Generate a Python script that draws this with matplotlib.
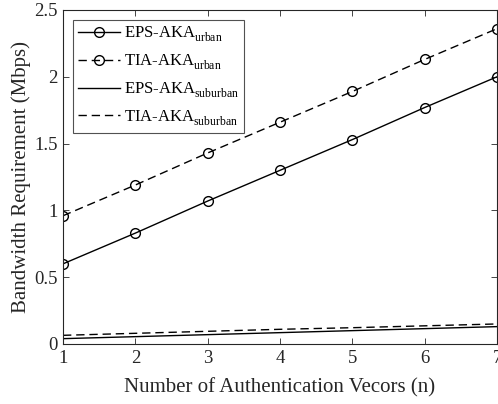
import matplotlib
matplotlib.use("Agg")
import matplotlib.pyplot as plt

try:
    import matplotlib._mathtext as _mt
    _mt.FontConstantsBase.sub1 = 0.55
    _mt.FontConstantsBase.sub2 = 0.7
except Exception:
    pass

plt.rcParams['font.family'] = ['Liberation Serif', 'DejaVu Serif']
plt.rcParams['mathtext.fontset'] = 'custom'
plt.rcParams['mathtext.rm'] = 'Liberation Serif'
plt.rcParams['mathtext.it'] = 'Liberation Serif:italic'

n = [1, 2, 3, 4, 5, 6, 7]
eps_urban = [0.60, 0.83, 1.07, 1.30, 1.53, 1.77, 2.00]
tia_urban = [0.96, 1.19, 1.43, 1.66, 1.89, 2.13, 2.36]
eps_suburban = [0.040, 0.055, 0.070, 0.085, 0.100, 0.115, 0.130]
tia_suburban = [0.065, 0.080, 0.095, 0.110, 0.122, 0.136, 0.150]

labels = ['EPS-AKA$_{\\mathrm{urban}}$', 'TIA-AKA$_{\\mathrm{urban}}$',
          'EPS-AKA$_{\\mathrm{suburban}}$', 'TIA-AKA$_{\\mathrm{suburban}}$']

fig = plt.figure(figsize=(4.98, 4.04), dpi=100)
ax = fig.add_axes([63/498, 1-344/404, (497-63)/498, (344-10)/404])

ax.plot(n, eps_urban, 'k-', marker='o', mfc='none', ms=7, lw=1, label=labels[0])
ax.plot(n, tia_urban, 'k--', marker='o', mfc='none', ms=7, lw=1, dashes=(6, 3.5), label=labels[1])
ax.plot(n, eps_suburban, 'k-', lw=1, label=labels[2])
ax.plot(n, tia_suburban, 'k--', lw=1, dashes=(6, 3.5), label=labels[3])

ax.set_xlim(1, 7)
ax.set_ylim(0, 2.5)
ax.set_xticks(n)
ax.set_yticks([0, 0.5, 1, 1.5, 2, 2.5])
ax.set_yticklabels(['0', '0.5', '1', '1.5', '2', '2.5'])
ax.tick_params(direction='in', top=True, right=True, labelsize=13.5, length=4, width=0.6,
               colors='#262626', labelcolor='#262626', pad=4)
for s in ax.spines.values():
    s.set_linewidth(0.8)
    s.set_color('#262626')

ax.set_xlabel('Number of Authentication Vecors (n)', fontsize=15, color='#262626', labelpad=8)
ax.set_ylabel('Bandwidth Requirement (Mbps)', fontsize=15, color='#262626', labelpad=2)

leg = ax.legend(loc='upper left', fontsize=12, frameon=True, fancybox=False,
                edgecolor='#262626', handlelength=2.5, borderpad=0.3,
                labelspacing=0.5, handletextpad=0.25, borderaxespad=0.6)
leg.get_frame().set_linewidth(0.8)

fig.savefig('out.png', dpi=100)
